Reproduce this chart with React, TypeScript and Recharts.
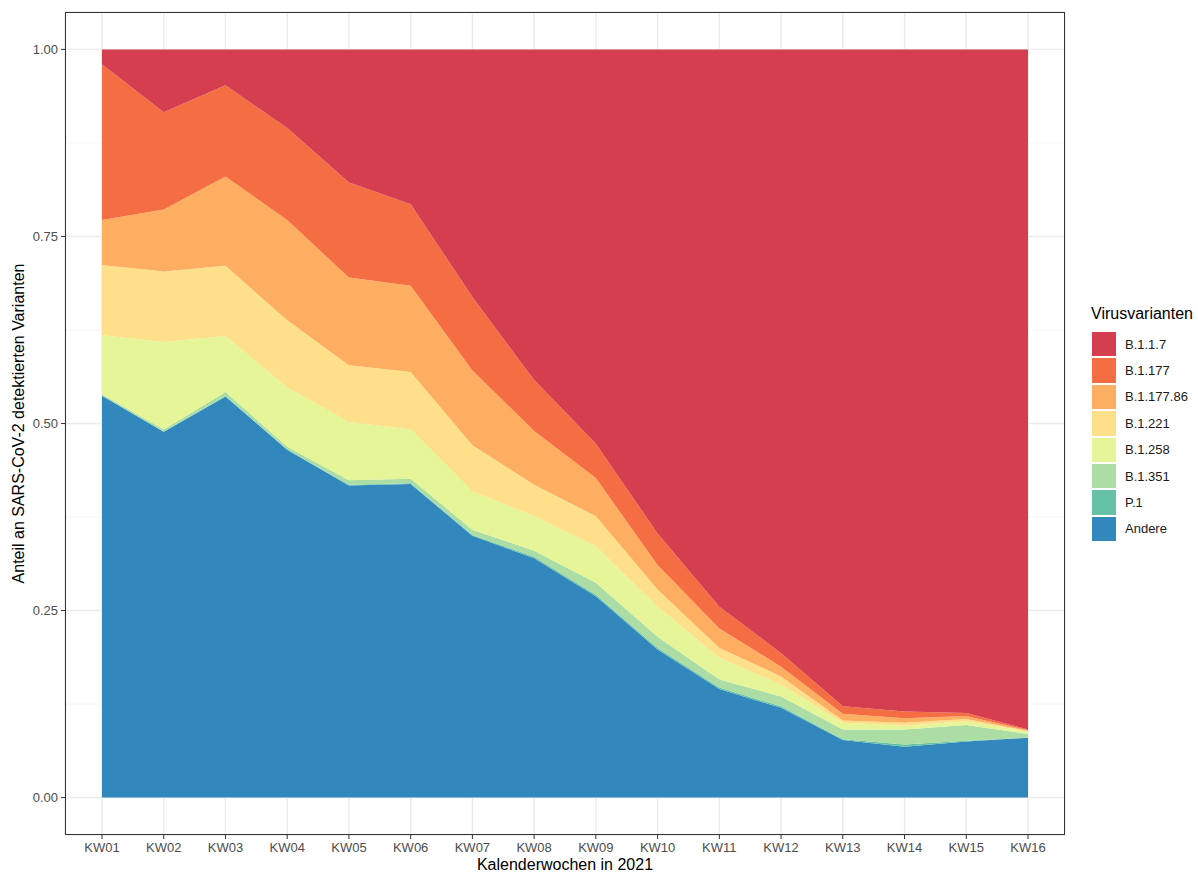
import { AreaChart, Area, XAxis, YAxis, CartesianGrid } from "recharts";

// Anteile je Kalenderwoche
const weeks = ["KW01", "KW02", "KW03", "KW04", "KW05", "KW06", "KW07", "KW08", "KW09", "KW10", "KW11", "KW12", "KW13", "KW14", "KW15", "KW16"];
const andere = [0.537, 0.489, 0.536, 0.465, 0.417, 0.419, 0.350, 0.320, 0.269, 0.198, 0.145, 0.120, 0.077, 0.068, 0.075, 0.080];
const p1 = [0.000, 0.000, 0.000, 0.000, 0.001, 0.001, 0.001, 0.002, 0.002, 0.002, 0.002, 0.002, 0.001, 0.003, 0.001, 0.000];
const b1351 = [0.002, 0.003, 0.006, 0.004, 0.006, 0.006, 0.007, 0.008, 0.016, 0.015, 0.011, 0.013, 0.013, 0.020, 0.021, 0.005];
const b1258 = [0.079, 0.117, 0.075, 0.079, 0.078, 0.066, 0.051, 0.046, 0.049, 0.040, 0.029, 0.016, 0.009, 0.005, 0.005, 0.003];
const b1221 = [0.094, 0.094, 0.094, 0.090, 0.076, 0.077, 0.062, 0.042, 0.040, 0.023, 0.013, 0.011, 0.003, 0.004, 0.003, 0.001];
const b117786 = [0.060, 0.083, 0.119, 0.134, 0.117, 0.115, 0.100, 0.072, 0.051, 0.033, 0.026, 0.013, 0.009, 0.006, 0.004, 0.001];
const b1177 = [0.208, 0.130, 0.122, 0.123, 0.127, 0.109, 0.098, 0.068, 0.046, 0.042, 0.029, 0.018, 0.010, 0.009, 0.004, 0.001];
const b117 = [0.020, 0.084, 0.048, 0.105, 0.178, 0.207, 0.331, 0.442, 0.527, 0.647, 0.745, 0.807, 0.878, 0.885, 0.887, 0.909];

const yTicks = [0, 0.25, 0.5, 0.75, 1];
const yMinor = [0.125, 0.375, 0.625, 0.875];
const yDomain: [number, number] = [-0.05, 1.05];

// unten -> oben
const series = [
  { key: "Andere", values: andere, color: "#3288BD" },
  { key: "P.1", values: p1, color: "#66C2A5" },
  { key: "B.1.351", values: b1351, color: "#ABDDA4" },
  { key: "B.1.258", values: b1258, color: "#E6F598" },
  { key: "B.1.221", values: b1221, color: "#FEE08B" },
  { key: "B.1.177.86", values: b117786, color: "#FDAE61" },
  { key: "B.1.177", values: b1177, color: "#F46D43" },
  { key: "B.1.1.7", values: b117, color: "#D53E4F" },
];

const data = weeks.map((week, i) => {
  const row: Record<string, any> = { week };
  series.forEach((s) => { row[s.key] = s.values[i]; });
  return row;
});

const W = 1198;
const H = 873;
const margin = { top: 12, right: 133, bottom: 0, left: 0 };
const Y_W = 65;
const X_H = 38;
const font = "'Liberation Sans', Arial, sans-serif";

// Nebengitterlinien über die Skala der y-Achse
function minorGrid({ yAxis, offset }: any) {
  const sc = yAxis && yAxis.scale;
  if (typeof sc === "function") return yMinor.map((v) => sc(v));
  if (sc && typeof sc.map === "function") return yMinor.map((v) => sc.map(v));
  const top = offset ? offset.top : margin.top;
  const h = offset ? offset.height : H - X_H - margin.top;
  return yMinor.map((v) => top + (1 - (v - yDomain[0]) / (yDomain[1] - yDomain[0])) * h);
}

export default function App() {
  const panelLeft = margin.left + Y_W;
  const panelTop = margin.top;
  const panelW = W - margin.right - panelLeft;
  const panelH = H - margin.bottom - X_H - panelTop;

  return (
    <div style={{ position: "absolute", left: 0, top: 0, width: W, height: H, background: "#fff", fontFamily: font }}>
      <AreaChart width={W} height={H} data={data} margin={margin}>
        <CartesianGrid stroke="#EBEBEB" strokeWidth={1.4} />
        <CartesianGrid
          stroke="#F2F2F2"
          strokeWidth={0.8}
          vertical={false}
          horizontalCoordinatesGenerator={minorGrid}
        />
        <XAxis
          dataKey="week"
          padding={{ left: 37, right: 37 }}
          height={X_H}
          axisLine={false}
          tickSize={4}
          tickMargin={4}
          tickLine={{ stroke: "#333333" }}
          tick={{ fill: "#4D4D4D", fontSize: 13, fontFamily: font }}
          interval={0}
          label={{
            content: (p: any) => {
              const vb = p.viewBox || {};
              return (
                <text x={vb.x + vb.width / 2} y={H - 3} textAnchor="middle" fontSize={16} fill="#000" fontFamily={font}>
                  Kalenderwochen in 2021
                </text>
              );
            },
          }}
        />
        <YAxis
          type="number"
          domain={yDomain}
          ticks={yTicks}
          allowDataOverflow
          width={Y_W}
          axisLine={false}
          tickSize={4}
          tickMargin={3}
          tickLine={{ stroke: "#333333" }}
          tick={{ fill: "#4D4D4D", fontSize: 13, fontFamily: font }}
          tickFormatter={(v: number) => v.toFixed(2)}
          label={{
            content: (p: any) => {
              const vb = p.viewBox || {};
              const cy = vb.y + vb.height / 2;
              return (
                <text
                  x={18}
                  y={cy}
                  transform={`rotate(-90 18 ${cy})`}
                  textAnchor="middle"
                  dominantBaseline="central"
                  fontSize={16}
                  fill="#000"
                  fontFamily={font}
                >
                  Anteil an SARS-CoV-2 detektierten Varianten
                </text>
              );
            },
          }}
        />
        {series.map((s) => (
          <Area
            key={s.key}
            type="linear"
            dataKey={s.key}
            name={s.key}
            stackId="1"
            stroke="none"
            fill={s.color}
            fillOpacity={1}
            dot={false}
            activeDot={false}
            isAnimationActive={false}
          />
        ))}
      </AreaChart>

      {/* Panel-Rahmen */}
      <div
        style={{
          position: "absolute",
          left: panelLeft,
          top: panelTop,
          width: panelW,
          height: panelH,
          border: "1px solid #333333",
          boxSizing: "border-box",
          pointerEvents: "none",
        }}
      />

      {/* Legende */}
      <div style={{ position: "absolute", left: 1091, top: 304, fontFamily: font }}>
        <div style={{ fontSize: 16, color: "#000", marginBottom: 8, lineHeight: "19px" }}>Virusvarianten</div>
        {[...series].reverse().map((s) => (
          <div key={s.key} style={{ display: "flex", alignItems: "center", height: 26.4 }}>
            <span style={{ width: 24, height: 24.4, background: s.color, display: "inline-block", border: "1px solid #fff" }} />
            <span style={{ marginLeft: 8, fontSize: 13, color: "#1A1A1A" }}>{s.key}</span>
          </div>
        ))}
      </div>
    </div>
  );
}
